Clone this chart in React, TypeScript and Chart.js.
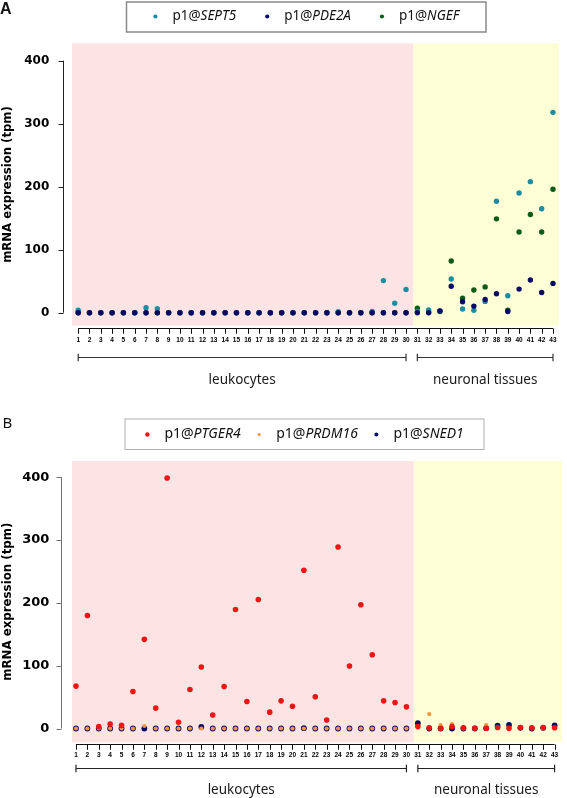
import React, { useEffect, useRef } from 'react';
import { Chart, registerables } from 'chart.js';

Chart.register(...registerables);

// ---------- data ----------
const sampleIds = [1, 2, 3, 4, 5, 6, 7, 8, 9, 10, 11, 12, 13, 14, 15, 16, 17, 18, 19, 20, 21, 22, 23, 24, 25, 26, 27, 28, 29, 30, 31, 32, 33, 34, 35, 36, 37, 38, 39, 40, 41, 42, 43];
const tickLabels = ['1', '2', '3', '4', '5', '6', '7', '8', '9', '10', '11', '12', '13', '14', '15', '16', '17', '18', '19', '20', '21', '22', '23', '24', '25', '26', '27', '28', '29', '30', '31', '32', '33', '34', '35', '36', '37', '38', '39', '40', '41', '42', '43'];
const yTicks = [0, 100, 200, 300, 400];
const groupLabels = ['leukocytes', 'neuronal tissues'];
const groupStart = [1, 31];
const groupEnd = [30, 43];
const tissueBoundary = 30.65;
const yTitle = 'mRNA expression (tpm)';
const promoter = 'p1@';

const genesA = ['SEPT5', 'PDE2A', 'NGEF'];
const sept5 = [4, 0, 0, 0, 0, 0, 8, 6.5, 0, 0, 0, 0, 0, 0, 0, 0, 0, 0, 0, 0, 0, 0, 0, 1.5, 0, 0, 2, 51, 15, 37, 2, 4.5, 3, 53.5, 6, 4, 18, 177, 27, 190, 208, 165, 318];
const pde2a = [0, 0, 0, 0, 0, 0, 0, 0, 0, 0, 0, 0, 0, 0, 0, 0, 0, 0, 0, 0, 0, 0, 0, 0, 0, 0, 0, 0, 0, 0, 0, 0, 3, 42, 17.5, 10.5, 21, 30, 2, 37.5, 52, 32, 46.5];
const ngef = [0, 0, 0, 0, 0, 0, 0, 0, 0, 0, 0, 0, 0, 0, 0, 0, 0, 0, 0, 0, 0, 0, 0, 0, 0, 0, 0, 0, 0, 0, 7, 1, 2, 82, 23, 36, 41, 149, 4, 128, 156, 128, 196];

const genesB = ['PTGER4', 'PRDM16', 'SNED1'];
const ptger4 = [67.5, 180, 3, 7, 5, 59, 142, 32.5, 399, 10, 62, 98, 21.5, 67, 189.5, 43, 205.5, 26, 44, 35.5, 252, 50.5, 13.5, 289, 99.5, 197, 117.5, 44, 41.5, 34.5, 3, 1, 0.5, 3, 1, 0.5, 0.5, 1.7, 0.5, 1.5, 1, 1.5, 1.2];
const prdm16 = [0, 0, 0, 0, 0, 0, 4, 0, 0, 0, 0, 0, 0, 0, 0, 0, 0, 0, 0, 0, 0, 0, 0, 0, 0, 0, 0, 0, 0, 0, 3, 23, 5.5, 7, 0.5, 0, 5.6, 1, 1, 0.5, 0.5, 0.5, 0.5];
const sned1 = [0, 0, 0, 0, 0, 0, 0, 0, 0, 0, 0, 2.5, 0, 0, 0, 0, 0, 0, 0, 0, 0.5, 0, 0, 0, 0, 0, 0, 0, 0, 0, 8.5, 0, 0, 0, 0, 0, 0.5, 4.5, 5.6, 1, 0, 1, 5];

// ---------- styling ----------
const PINK = '#fde4e4';
const YELLOW = '#fefed6';

interface PanelCfg {
  letter: string;
  letterFont: string;
  letterX: number;
  letterY: number;
  genes: string[];
  series: number[][];
  colors: string[];
  radii: number[];
  orders: number[];
  legendDotR: number[];
  height: number;
  chartTop: number;
  chartBottom: number;
  xMin: number;
  xMax: number;
  yMin: number;
  yMax: number;
  yAxisOffset: number;
  yAxisColor: string;
  tickFontSize: number;
  titleFontSize: number;
  titlePad: number;
  yLabelPad: number;
  xLabelPad: number;
  rulerDy: number;
  bracketY: number;
  groupLabelY: number;
  bracketColor: string;
  legendBox: number[];
  legendBorder: string;
  legendBorderWidth: number;
  legendFontSize: number;
  legendGap: number;
  legendTextY: number;
}

const panelA: PanelCfg = {
  letter: 'A',
  letterFont: 'bold 16px "Liberation Sans"',
  letterX: 0,
  letterY: 9.5,
  genes: genesA,
  series: [sept5, pde2a, ngef],
  colors: ['#1e8ca0', '#0a0a66', '#0d5c16'],
  radii: [2.7, 2.7, 2.7],
  orders: [1, 0, 2],
  legendDotR: [2.1, 2.1, 2.1],
  height: 399,
  chartTop: 43.3,
  chartBottom: 325.7,
  xMin: 0.452,
  xMax: 43.53,
  yMin: -20.6,
  yMax: 427.6,
  yAxisOffset: 9.3,
  yAxisColor: '#222',
  tickFontSize: 12,
  titleFontSize: 11.7,
  titlePad: 1.3,
  yLabelPad: 22.7,
  xLabelPad: 10.4,
  rulerDy: 2,
  bracketY: 357.3,
  groupLabelY: 380,
  bracketColor: '#333',
  legendBox: [126.5, 2, 359.5, 30],
  legendBorder: '#8a8a8a',
  legendBorderWidth: 1.5,
  legendFontSize: 13.5,
  legendGap: 31,
  legendTextY: 16.5,
};

const panelB: PanelCfg = {
  letter: 'B',
  letterFont: '15px "Noto Sans"',
  letterX: 2.5,
  letterY: 25,
  genes: genesB,
  series: [ptger4, prdm16, sned1],
  colors: ['#ee1515', '#f0963a', '#0a0a66'],
  radii: [2.8, 2.1, 2.9],
  orders: [0, 1, 2],
  legendDotR: [2.2, 1.6, 2.0],
  height: 399,
  chartTop: 62,
  chartBottom: 343.3,
  xMin: 0.652,
  xMax: 43.66,
  yMin: -21.97,
  yMax: 425.96,
  yAxisOffset: 11,
  yAxisColor: '#707070',
  tickFontSize: 13,
  titleFontSize: 11.8,
  titlePad: 1.3,
  yLabelPad: 22.7,
  xLabelPad: 8.8,
  rulerDy: 1.7,
  bracketY: 369.3,
  groupLabelY: 391,
  bracketColor: '#222',
  legendBox: [125, 20, 359, 30.5],
  legendBorder: '#b0b0b0',
  legendBorderWidth: 1,
  legendFontSize: 14,
  legendGap: 18.5,
  legendTextY: 35.5,
};

function Panel({ cfg }: { cfg: PanelCfg }) {
  const ref = useRef<HTMLCanvasElement | null>(null);

  useEffect(() => {
    const canvas = ref.current;
    if (!canvas) return;

    const datasets = cfg.genes.map((g, i) => ({
      label: promoter + g,
      data: sampleIds.map((s, j) => ({ x: s, y: cfg.series[i][j] })),
      backgroundColor: cfg.colors[i],
      borderColor: cfg.colors[i],
      borderWidth: 0,
      pointRadius: cfg.radii[i],
      pointHoverRadius: cfg.radii[i],
      showLine: false,
      order: cfg.orders[i],
    }));

    const decor = {
      id: 'decor',
      beforeDraw(chart: any) {
        const { ctx, chartArea: ca } = chart;
        const xs = chart.scales.x;
        const xb = xs.getPixelForValue(tissueBoundary);
        ctx.save();
        ctx.fillStyle = PINK;
        ctx.fillRect(ca.left, ca.top, xb - ca.left, ca.bottom - ca.top);
        ctx.fillStyle = YELLOW;
        ctx.fillRect(xb, ca.top, ca.right - xb, ca.bottom - ca.top);
        ctx.restore();
      },
      afterDraw(chart: any) {
        const { ctx, chartArea: ca } = chart;
        const xs = chart.scales.x;
        const ys = chart.scales.y;
        ctx.save();
        // y axis (R style)
        const ax = Math.round(ca.left - cfg.yAxisOffset) + 0.5;
        ctx.strokeStyle = cfg.yAxisColor;
        ctx.lineWidth = 1;
        ctx.beginPath();
        ctx.moveTo(ax, ys.getPixelForValue(yTicks[0]));
        ctx.lineTo(ax, ys.getPixelForValue(yTicks[yTicks.length - 1]));
        yTicks.forEach((v) => {
          const py = Math.round(ys.getPixelForValue(v)) + 0.5;
          ctx.moveTo(ax - 5, py);
          ctx.lineTo(ax, py);
        });
        ctx.stroke();

        // x ruler
        const ry = Math.round(ca.bottom + cfg.rulerDy) + 0.5;
        ctx.strokeStyle = '#111';
        ctx.beginPath();
        ctx.moveTo(xs.getPixelForValue(sampleIds[0]), ry);
        ctx.lineTo(xs.getPixelForValue(sampleIds[sampleIds.length - 1]), ry);
        sampleIds.forEach((s) => {
          const px = Math.round(xs.getPixelForValue(s)) + 0.5;
          ctx.moveTo(px, ry);
          ctx.lineTo(px, ry + 5.3);
        });
        ctx.stroke();

        // group brackets
        ctx.strokeStyle = cfg.bracketColor;
        ctx.lineWidth = 1.2;
        const by = Math.round(cfg.bracketY) + 0.5;
        ctx.fillStyle = '#1a1a1a';
        ctx.font = '13.5px "Noto Sans"';
        ctx.textAlign = 'center';
        ctx.textBaseline = 'middle';
        groupLabels.forEach((lab, i) => {
          const x0 = xs.getPixelForValue(groupStart[i]);
          const x1 = xs.getPixelForValue(groupEnd[i]);
          ctx.beginPath();
          ctx.moveTo(x0, by);
          ctx.lineTo(x1, by);
          ctx.moveTo(x0, by - 3.8);
          ctx.lineTo(x0, by + 3.8);
          ctx.moveTo(x1, by - 3.8);
          ctx.lineTo(x1, by + 3.8);
          ctx.stroke();
          ctx.fillText(lab, (x0 + x1) / 2, cfg.groupLabelY);
        });

        // legend
        const [bx, bY, bw, bh] = cfg.legendBox;
        ctx.fillStyle = '#ffffff';
        ctx.fillRect(bx, bY, bw, bh);
        ctx.strokeStyle = cfg.legendBorder;
        ctx.lineWidth = cfg.legendBorderWidth;
        ctx.strokeRect(bx, bY, bw, bh);
        const fs = cfg.legendFontSize;
        const normalFont = `${fs}px "Noto Sans"`;
        const italicFont = `italic ${fs}px "Noto Sans"`;
        const widths = cfg.genes.map((g) => {
          ctx.font = normalFont;
          const a = ctx.measureText(promoter).width;
          ctx.font = italicFont;
          const b = ctx.measureText(g).width;
          return [a, b];
        });
        const dotToText = 17;
        let span = 0;
        widths.forEach((w, i) => {
          span += dotToText + w[0] + w[1];
          if (i < widths.length - 1) span += cfg.legendGap;
        });
        const r0 = cfg.legendDotR[0];
        let cursor = bx + (bw - (span + r0)) / 2 + r0;
        ctx.textAlign = 'left';
        ctx.textBaseline = 'middle';
        cfg.genes.forEach((g, i) => {
          ctx.fillStyle = cfg.colors[i];
          ctx.beginPath();
          ctx.arc(cursor, cfg.legendTextY, cfg.legendDotR[i], 0, Math.PI * 2);
          ctx.fill();
          let tx = cursor + dotToText;
          ctx.fillStyle = '#111';
          ctx.font = normalFont;
          ctx.fillText(promoter, tx, cfg.legendTextY);
          tx += widths[i][0];
          ctx.font = italicFont;
          ctx.fillText(g, tx, cfg.legendTextY);
          cursor = tx + widths[i][1] + cfg.legendGap;
        });

        // panel letter
        ctx.fillStyle = '#111';
        ctx.font = cfg.letterFont;
        ctx.textAlign = 'left';
        ctx.textBaseline = 'middle';
        ctx.fillText(cfg.letter, cfg.letterX, cfg.letterY);
        ctx.restore();
      },
    };

    const chart = new Chart(canvas, {
      type: 'scatter',
      data: { datasets },
      options: {
        animation: false,
        responsive: false,
        events: [],
        layout: {
          autoPadding: false,
          padding: { top: cfg.chartTop, left: 0, right: 0, bottom: 0 },
        },
        plugins: {
          legend: { display: false },
          tooltip: { enabled: false },
        },
        scales: {
          x: {
            type: 'linear',
            min: cfg.xMin,
            max: cfg.xMax,
            grid: { display: false, drawTicks: false },
            border: { display: false },
            afterBuildTicks: (scale: any) => {
              scale.ticks = sampleIds.map((v) => ({ value: v }));
            },
            afterFit: (scale: any) => {
              scale.height = cfg.height - cfg.chartBottom;
            },
            ticks: {
              autoSkip: false,
              maxRotation: 0,
              minRotation: 0,
              padding: cfg.xLabelPad,
              color: '#000',
              font: { family: 'Liberation Sans', weight: 'bold', size: 6.5 },
              callback: (v: any) => {
                const idx = sampleIds.indexOf(Number(v));
                return idx >= 0 ? tickLabels[idx] : '';
              },
            },
          },
          y: {
            type: 'linear',
            min: cfg.yMin,
            max: cfg.yMax,
            grid: { display: false, drawTicks: false },
            border: { display: false },
            afterBuildTicks: (scale: any) => {
              scale.ticks = yTicks.map((v) => ({ value: v }));
            },
            afterFit: (scale: any) => {
              scale.width = 72;
            },
            ticks: {
              padding: cfg.yLabelPad,
              color: '#000',
              font: { family: 'DejaVu Sans', weight: 'bold', size: cfg.tickFontSize },
              callback: (v: any) => String(v),
            },
            title: {
              display: true,
              text: yTitle,
              color: '#000',
              padding: { top: cfg.titlePad, bottom: 0 },
              font: { family: 'DejaVu Sans', weight: 'bold', size: cfg.titleFontSize },
            },
          },
        },
      },
      plugins: [decor],
    } as any);

    return () => {
      chart.destroy();
    };
  }, [cfg]);

  return <canvas ref={ref} width={567} height={cfg.height} style={{ display: 'block' }} />;
}

export default function App() {
  useEffect(() => {
    document.body.style.margin = '0';
    document.body.style.background = '#ffffff';
  }, []);
  return (
    <div style={{ width: 567, height: 798, background: '#fff' }}>
      <Panel cfg={panelA} />
      <Panel cfg={panelB} />
    </div>
  );
}
